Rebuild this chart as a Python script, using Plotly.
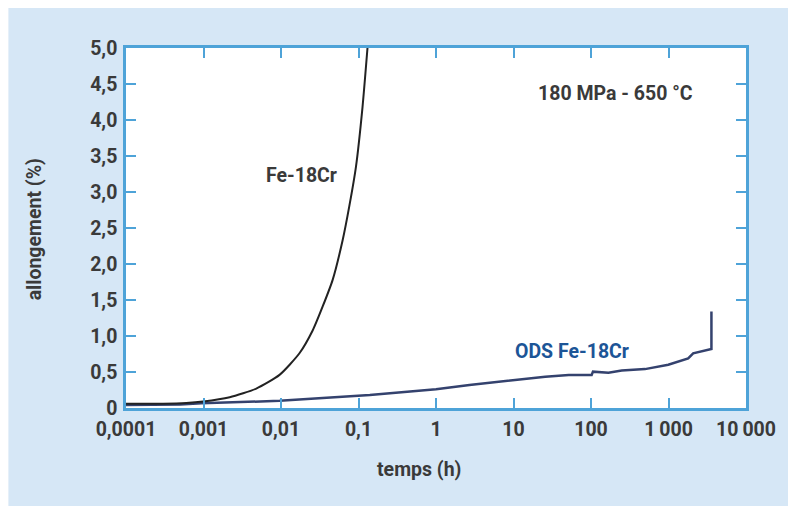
import plotly.graph_objects as go

# Fe-18Cr creep curve (time in h, elongation in %)
fe_time = [0.0001, 0.0003, 0.0006, 0.000987, 0.00218, 0.0048, 0.00957, 0.0173,
           0.0257, 0.0345, 0.0464, 0.0624, 0.076, 0.0927, 0.1127, 0.1306]
fe_elong = [0.06, 0.06, 0.07, 0.09, 0.15, 0.27, 0.46, 0.76,
            1.08, 1.41, 1.78, 2.33, 2.80, 3.35, 4.18, 5.0]

# ODS Fe-18Cr creep curve
ods_time = [0.0001, 0.0005, 0.00094, 0.0096, 0.14, 1.0, 2.7, 10, 25.7, 51.6,
            102, 106, 168, 249, 497, 993, 1795, 2080, 3580, 3580]
ods_elong = [0.04, 0.05, 0.065, 0.10, 0.18, 0.26, 0.32, 0.39, 0.435, 0.46,
             0.46, 0.505, 0.49, 0.52, 0.54, 0.60, 0.69, 0.76, 0.82, 1.34]

x_tickvals = [0.0001, 0.001, 0.01, 0.1, 1, 10, 100, 1000, 10000]
x_ticktext = ["0,0001", "0,001", "0,01", "0,1", "1", "10", "100", "1\u2009000", "10\u2009000"]
y_tickvals = [0, 0.5, 1, 1.5, 2, 2.5, 3, 3.5, 4, 4.5, 5]
y_ticktext = ["0", "0,5", "1,0", "1,5", "2,0", "2,5", "3,0", "3,5", "4,0", "4,5", "5,0"]

AXIS = "#4ea3d8"
TXT = "#3a3a3a"
PANEL = "#d6e7f6"
FONT = "Roboto"
FS = 19.5

fig = go.Figure()
fig.add_trace(go.Scatter(x=ods_time, y=ods_elong, mode="lines",
                         line=dict(color="#34426e", width=2.5), showlegend=False))
fig.add_trace(go.Scatter(x=fe_time, y=fe_elong, mode="lines",
                         line=dict(color="#222222", width=2, shape="spline", smoothing=0.6),
                         showlegend=False))

# white border strips at top and left, white plot area
fig.add_shape(type="rect", xref="paper", yref="paper", x0=-0.25, x1=1.2,
              y0=1.1111, y1=1.2, fillcolor="white", line=dict(width=0), layer="below")
fig.add_shape(type="rect", xref="paper", yref="paper", x0=-0.25, x1=-0.1897,
              y0=-0.3, y1=1.2, fillcolor="white", line=dict(width=0), layer="below")
fig.add_shape(type="rect", xref="paper", yref="paper", x0=0, x1=1, y0=0, y1=1,
              fillcolor="white", line=dict(width=0), layer="below")

axis_common = dict(showline=True, linecolor=AXIS, linewidth=2.5, mirror="ticks",
                   ticks="inside", ticklen=10, tickwidth=2, tickcolor=AXIS,
                   showgrid=False, zeroline=False,
                   tickfont=dict(family=FONT, size=FS, color=TXT, weight="bold"))

fig.update_xaxes(type="log", range=[-4, 4], tickvals=x_tickvals, ticktext=x_ticktext,
                 ticklabelstandoff=2, **axis_common)
fig.update_yaxes(range=[0, 5], tickvals=y_tickvals, ticktext=y_ticktext,
                 ticklabelstandoff=2, **axis_common)

ann_font = dict(family=FONT, size=FS, color=TXT, weight="bold")
annotations = [
    dict(text="180 MPa - 650 °C", x=0.789, y=0.875),
    dict(text="Fe-18Cr", x=0.283, y=0.647),
    dict(text="ODS Fe-18Cr", x=0.7187, y=0.158, color="#1c5597"),
    dict(text="temps (h)", x=0.4727, y=-0.172),
    dict(text="allongement (%)", x=-0.148, y=0.497, textangle=-90),
]
for a in annotations:
    f = dict(ann_font)
    if "color" in a:
        f["color"] = a.pop("color")
    fig.add_annotation(xref="paper", yref="paper", xanchor="center", yanchor="middle",
                       showarrow=False, font=f, **a)

fig.update_layout(width=788, height=506, margin=dict(l=126, r=40, t=48, b=98),
                  paper_bgcolor=PANEL, plot_bgcolor="white")

fig.write_html("out.html", config={"displayModeBar": False},
               post_script="document.body.style.margin='0';document.body.style.overflow='hidden';")
